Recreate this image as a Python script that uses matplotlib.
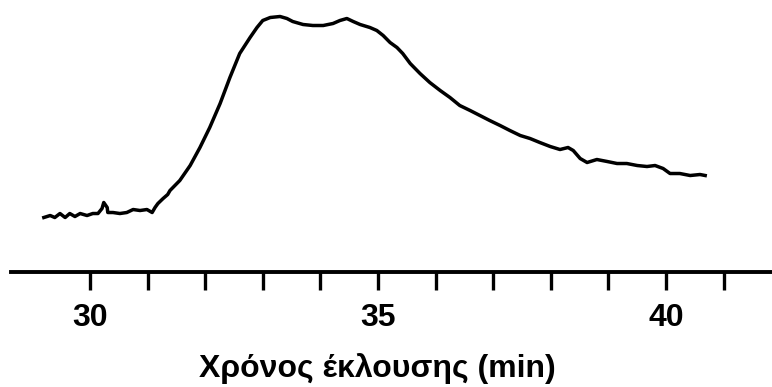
import matplotlib.pyplot as plt

# elution time (min) and detector signal (arbitrary units)
time_min = [29.20, 29.31, 29.39, 29.48, 29.57, 29.65, 29.74, 29.83, 29.95, 30.05,
            30.14, 30.21, 30.24, 30.30, 30.31, 30.40, 30.52, 30.64, 30.75, 30.87,
            30.99, 31.08, 31.13, 31.18, 31.27, 31.35, 31.39, 31.56, 31.74, 31.91,
            32.08, 32.26, 32.43, 32.60, 32.78, 32.90, 33.00, 33.13, 33.30, 33.42,
            33.52, 33.70, 33.87, 34.05, 34.22, 34.34, 34.46, 34.57, 34.69, 34.86,
            34.98, 35.09, 35.21, 35.33, 35.43, 35.56, 35.73, 35.90, 36.08, 36.25,
            36.42, 36.60, 36.77, 36.94, 37.12, 37.29, 37.47, 37.64, 37.81, 37.99,
            38.16, 38.30, 38.39, 38.51, 38.63, 38.80, 38.98, 39.15, 39.32, 39.50,
            39.67, 39.81, 39.95, 40.07, 40.24, 40.42, 40.59, 40.68]
signal = [54, 56, 54, 58, 54, 58, 55, 58, 56, 58,
          58, 63, 69, 64, 59, 59, 58, 59, 62, 61,
          62, 59, 64, 68, 73, 77, 81, 91, 106, 124,
          144, 168, 194, 218, 234, 244, 251, 254, 255, 253,
          250, 247, 246, 246, 248, 251, 253, 250, 247, 244,
          241, 236, 229, 224, 218, 208, 198, 189, 181, 174,
          166, 161, 156, 151, 146, 141, 136, 133, 129, 125,
          122, 124, 121, 113, 109, 112, 110, 108, 108, 106,
          105, 106, 103, 98, 98, 96, 97, 96]

ticks = list(range(30, 42))
tick_labels = ['30', '', '', '', '', '35', '', '', '', '', '40', '']

plt.rcParams['font.family'] = ['Liberation Sans', 'DejaVu Sans']

fig = plt.figure(figsize=(7.72, 3.87), dpi=100)
ax = fig.add_axes([11 / 772, 0.2984, 761 / 772, 0.7016])
ax.plot(time_min, signal, color='black', linewidth=2.5)

ax.set_xlim(28.63, 41.84)
ax.set_ylim(0, 271.5)
for s in ['top', 'right', 'left']:
    ax.spines[s].set_visible(False)
ax.spines['bottom'].set_linewidth(2.8)
ax.set_yticks([])
ax.set_xticks(ticks)
ax.set_xticklabels(tick_labels, fontsize=23, fontweight='bold')
ax.tick_params(axis='x', direction='out', length=13, width=2.4, pad=10)

fig.text(377 / 772, 0.049, 'Χρόνος έκλουσης (min)', ha='center', va='center',
         fontsize=23, fontweight='bold')

fig.savefig('out.png', dpi=100)
